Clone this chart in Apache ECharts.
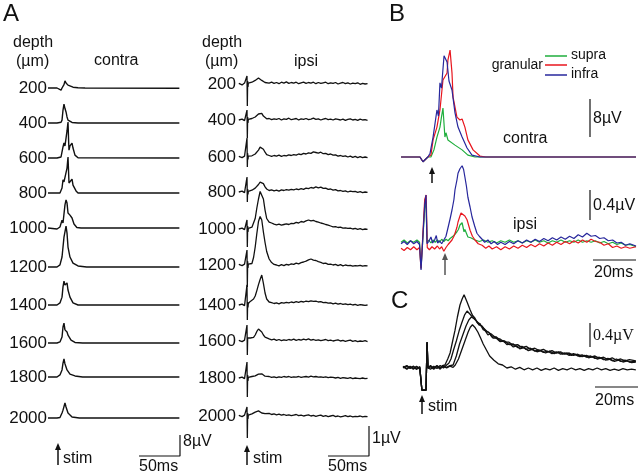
<!DOCTYPE html>
<html><head><meta charset="utf-8">
<script src="https://cdn.jsdelivr.net/npm/echarts@6/dist/echarts.min.js"></script>
<style>html,body{margin:0;padding:0;background:#fff}#c{width:640px;height:475px}</style>
</head><body><div id="c"></div>
<script>
// ---------------- DATA ----------------
const depthLabels = ['200','400','600','800','1000','1200','1400','1600','1800','2000'];

// Panel A, contra (time ms, µV)
const contra200 = [[-12.2,0],[-1.2,0],[1.2,-0.6],[3.7,-0.8],[4.9,0],[7.3,1.3],[8.5,2.7],[9.8,1.9],[12.2,1.1],[14.6,0.6],[18.3,0.3],[24.4,0.1],[33,0],[148,-0.1]];
const contra400 = [[-12.2,0],[-1.2,0],[1.2,-0.4],[3.7,0.3],[4.9,1.1],[6.1,4.9],[7.3,7.2],[8.5,5.5],[9.8,4.2],[11,2.3],[12.2,1.1],[14.6,0.5],[17.1,0.2],[24.4,0],[148,0]];
const contra600 = [[-12.2,0],[-1.2,0],[1.2,-0.3],[3.7,0.4],[4.9,2.3],[6.1,4.2],[7.3,5.7],[8.5,4.6],[9.8,7.6],[11,10.3],[12.2,13.7],[13,6],[13.4,3],[14.6,4.6],[17.1,5.7],[18.3,3.8],[20.7,1.1],[24.4,0.1],[148,0]];
const contra800 = [[-12.2,0],[-1.2,0],[2.4,0],[4.9,1.9],[6.1,5],[7.3,4.2],[8.5,3.8],[11,9.5],[12.2,13.7],[13.4,3.8],[14.6,4.2],[17.1,5.3],[18.3,3],[22,0.8],[24.4,0],[148,0]];
const contra1000 = [[-12.2,0],[-1.2,-0.4],[1.2,-0.6],[2.4,0.4],[4.9,3.0],[6.1,1.9],[8.5,8.8],[9.8,10.7],[11,9.5],[12.2,5.7],[14.6,4.9],[17.1,3.8],[19.5,1.5],[23,0.2],[28,0],[148,0]];
const contra1200 = [[-12.2,0],[-1.2,0],[0,-0.4],[2.4,0.8],[4.9,3.8],[6.1,7.6],[7.3,11.4],[9.8,15.6],[11,12.9],[12.2,7.6],[14.6,3.8],[18.3,1.5],[24.4,0.4],[35,0],[148,0]];
const contra1400 = [[-12.2,0],[-1.2,0],[0,-0.4],[2.4,0.8],[4.9,3],[6.1,6.9],[7.3,9.1],[8.5,7.6],[9.8,8.0],[11,8.4],[12.2,5.7],[14.6,3],[18.3,0.8],[24.4,0],[148,0]];
const contra1600 = [[-12.2,0],[-1.2,0],[0,-0.3],[2.4,0.4],[4.9,2.3],[6.1,6.1],[7.3,7.6],[8.5,5],[11,4.2],[12.2,3],[15.9,1.1],[20.7,0.2],[30,0],[148,0]];
const contra1800 = [[-12.2,0],[-1.2,0],[0,0],[2.4,0.8],[4.9,2.7],[6.1,5.3],[7.3,6.9],[8.5,5],[9.8,3.8],[11,2.7],[14.6,1.1],[20.7,0.4],[30,0],[148,0]];
const contra2000 = [[-12.2,0],[-1.2,0],[0,-0.4],[2.4,0.2],[4.9,1.9],[6.1,3],[8.5,5.7],[9.8,4.2],[12.2,1.9],[17.1,0.4],[26,0],[148,0]];

// Panel A, ipsi: shared sample times (ms) and values (µV)
const ipsiTimes = [-10,-6,-3,-1,0,0.4,0.8,1.2,1.6,2.5,4,6,8,10,12,14,16,18,20,22,24,27,30,33,36,39,42,45,48,51,54,57,60,63,66,69,72,75,78,81,84,87,90,93,96,99,102,105,108,111,114,117,120,123,126,129,132,135,138,141,144,147];
const ipsi200 = [0.02,-0.03,0.03,0, 0.27,-0.73,0.1,-0.1,0.03,0.0, 0.04,0.06,0.08,0.12,0.17,0.2,0.18,0.12,0.07,0.05,0.06, 0.03,0.06,0.02,0.05,0.01,0.06,0.03,0.07,0.02,0.05,0.03,0.06,0.01,0.04,0.06,0.02,0.05,0.03,0.06,0.01,0.05,0.02,0.04,0.06,0.01,0.04,0.02,0.05,0.0,0.03,0.05,0.01,0.04,0.0,0.03,0.01,0.04,-0.01,0.02,0.0,0.01];
const ipsi400 = [0.0,0.03,-0.02,0.02, 0.33,-0.6,0.1,-0.1,0.02,0.03, 0.0,0.05,0.08,0.1,0.15,0.2,0.26,0.22,0.13,0.07,0.04, 0.05,0.01,0.04,0.02,0.05,0.0,0.04,0.02,0.06,0.01,0.03,0.05,0.0,0.04,0.02,0.05,0.01,0.03,0.06,0.02,0.04,0.0,0.03,0.05,0.01,0.03,0.0,0.04,0.02,0.0,0.03,-0.01,0.02,0.04,0.0,0.02,-0.01,0.03,0.0,0.01,-0.01];
const ipsi600 = [0.02,-0.02,0.03,0.0, 0.63,-0.33,0.12,-0.08,0.03,0.02, 0.0,0.04,0.07,0.1,0.14,0.23,0.33,0.36,0.26,0.16,0.08, 0.05,0.02,0.05,0.03,0.06,0.02,0.05,0.04,0.07,0.05,0.08,0.06,0.1,0.08,0.12,0.1,0.14,0.12,0.17,0.15,0.13,0.16,0.11,0.12,0.08,0.1,0.06,0.07,0.03,0.05,0.02,0.04,0.0,0.03,-0.01,0.02,-0.02,0.01,-0.02,0.0,-0.02];
const ipsi800 = [0.0,0.03,-0.02,0.02, 0.5,-0.33,0.1,-0.08,0.02,0.0, 0.03,0.06,0.1,0.13,0.17,0.25,0.33,0.36,0.28,0.17,0.1, 0.05,0.07,0.04,0.06,0.03,0.07,0.05,0.08,0.06,0.09,0.07,0.1,0.08,0.11,0.09,0.13,0.11,0.15,0.13,0.17,0.14,0.16,0.12,0.13,0.09,0.1,0.06,0.08,0.04,0.05,0.02,0.04,0.0,0.03,0.01,0.02,-0.01,0.01,-0.02,0.0,-0.01];
const ipsi1000 = [0.0,0.03,-0.02,0.02, 0.3,-0.6,0.1,-0.1,0.02,0.0, 0.03,0.06,0.12,0.35,0.7,1.0,1.25,1.3,1.0,0.63,0.35, 0.23,0.2,0.16,0.14,0.16,0.13,0.15,0.17,0.15,0.19,0.18,0.22,0.2,0.25,0.23,0.27,0.3,0.27,0.29,0.25,0.23,0.2,0.18,0.15,0.13,0.1,0.07,0.08,0.05,0.06,0.03,0.04,0.02,0.03,0.0,0.02,-0.01,0.01,-0.02,0.0,-0.01];
const ipsi1200 = [0.02,-0.02,0.03,0.0, 0.5,-0.73,0.12,-0.1,0.03,0.0, 0.02,0.05,0.25,0.6,1.05,1.45,1.62,1.5,1.1,0.75,0.45, 0.2,0.08,0.02,0.0,-0.03,0.01,-0.02,0.02,0.0,0.04,0.02,0.06,0.04,0.08,0.1,0.13,0.17,0.2,0.16,0.15,0.11,0.09,0.05,0.06,0.02,0.03,0.0,0.02,-0.02,0.01,-0.03,0.0,-0.02,-0.01,-0.04,-0.02,-0.03,-0.01,-0.04,-0.02,-0.03];
const ipsi1400 = [0.0,0.03,-0.02,0.02, 0.67,-0.5,0.1,-0.08,0.05,0.08, 0.12,0.17,0.2,0.3,0.48,0.68,0.85,1.0,0.72,0.4,0.2, 0.1,0.08,0.05,0.07,0.04,0.08,0.06,0.09,0.07,0.1,0.08,0.11,0.09,0.12,0.1,0.13,0.11,0.14,0.12,0.13,0.1,0.11,0.08,0.09,0.06,0.07,0.04,0.06,0.03,0.05,0.02,0.04,0.01,0.03,0.0,0.02,-0.01,0.01,0.0,-0.01,0.0];
const ipsi1600 = [0.02,-0.02,0.03,0.0, 0.53,-0.47,0.1,0.05,0.12,0.13, 0.1,0.08,0.12,0.2,0.32,0.4,0.37,0.3,0.2,0.13,0.09, 0.07,0.04,0.06,0.02,0.05,0.01,0.04,0.02,0.05,0.03,0.06,0.02,0.05,0.03,0.06,0.04,0.07,0.03,0.05,0.02,0.04,0.01,0.03,0.05,0.01,0.03,0.0,0.02,0.04,0.0,0.02,-0.01,0.01,0.03,-0.01,0.01,-0.02,0.0,-0.01,0.01,-0.02];
const ipsi1800 = [0.0,0.03,-0.02,0.02, 0.53,-0.63,0.1,-0.1,0.02,0.0, 0.03,0.05,0.04,0.07,0.1,0.13,0.15,0.14,0.1,0.06,0.04, 0.05,0.02,0.04,0.01,0.04,0.02,0.05,0.03,0.05,0.02,0.04,0.03,0.05,0.02,0.04,0.05,0.03,0.06,0.04,0.05,0.03,0.04,0.02,0.04,0.01,0.03,0.02,0.0,0.02,-0.01,0.01,0.0,-0.01,0.01,-0.02,0.0,-0.01,-0.02,0.0,-0.02,-0.01];
const ipsi2000 = [0.02,-0.02,0.03,0.0, 0.3,-0.73,0.1,-0.1,0.03,0.02, 0.05,0.07,0.1,0.13,0.16,0.17,0.13,0.1,0.12,0.08,0.07, 0.09,0.05,0.07,0.04,0.06,0.03,0.05,0.02,0.04,0.01,0.03,0.05,0.01,0.03,0.0,0.02,0.04,0.0,0.02,-0.01,0.01,0.03,-0.01,0.01,-0.02,0.0,0.02,-0.02,0.0,-0.03,-0.01,0.01,-0.02,0.0,-0.03,-0.01,-0.02,0.0,-0.03,-0.01,-0.02];

// Panel B, contra (ms, µV)
const bContraSupra = [[-14.4,0],[-5.6,0],[-4.2,-1.0],[-1.9,0],[-0.5,0],[0.9,1.5],[2.3,4.2],[3.7,6.3],[4.4,8.4],[5.1,10.3],[6,4.2],[6.5,5.1],[7.4,3.6],[10.7,2.5],[14,1.5],[16.7,0.4],[20,0],[94.9,0]];
const bContraGranular = [[-14.4,0],[-5.6,0],[-4.2,-1.0],[-1.9,0],[-0.5,0.4],[0.5,3.6],[2.3,6.3],[3.7,9.9],[5.1,16.2],[7.0,17.7],[7.4,20.4],[8.4,22.5],[9.3,17.7],[9.8,12.6],[11.6,8.4],[13,7.8],[14,8.0],[15.3,6.3],[16.7,3.6],[19.1,1.5],[22.3,0.2],[25,0],[94.9,0]];
const bContraInfra = [[-14.4,0],[-5.6,0],[-4.2,-1.0],[-1.9,0],[-0.9,0.8],[0.5,4.2],[1.4,4.4],[2.3,9.9],[3.0,8.6],[3.7,15.6],[4.4,14.5],[5.6,21.3],[7.0,20],[7.9,16],[9.3,14.1],[10.7,9.3],[12.1,6.3],[14,4.2],[16.3,1.9],[18.6,0.4],[22.3,0],[94.9,0]];

// Panel B, ipsi (ms, µV)
const bIpsiSupra = [[-14.4,0.05],[-13,0.08],[-11.5,0.04],[-10,0.07],[-8.5,0.05],[-7,0.08],[-5.8,0.05],[-5.1,-0.3],[-4.2,-0.3],[-3.4,0.5],[-2.8,0.6],[-2.3,0.05],[-1.5,0.08],[-0.5,0.04],[0.5,0.08],[1.5,0.05],[2.5,0.08],[3.5,0.05],[4.5,0.09],[5.5,0.06],[6.5,0.09],[7.5,0.07],[8.4,0.1],[9.3,0.12],[10.2,0.14],[11.6,0.19],[12.3,0.22],[13,0.28],[14,0.31],[14.9,0.19],[15.3,0.22],[16,0.17],[16.7,0.12],[18,0.11],[20,0.08],[22,0.06],[24,0.08],[26,0.05],[28,0.07],[30,0.04],[32,0.07],[34,0.05],[36,0.08],[38,0.05],[40,0.07],[42,0.04],[44,0.07],[46,0.05],[48,0.08],[50,0.05],[52,0.07],[54,0.04],[56,0.07],[58,0.05],[60,0.08],[62,0.05],[64,0.07],[66,0.05],[68,0.08],[70,0.05],[72,0.07],[74,0.05],[76,0.07],[78,0.04],[80,0.06],[82,0.03],[84,0.05],[86,0.02],[88,0.04],[90,0.01],[92,0.02],[94.9,-0.01]];
const bIpsiGranular = [[-14.4,-0.03],[-13,-0.06],[-11.5,-0.02],[-10,-0.05],[-8.5,-0.01],[-7,-0.05],[-5.8,-0.02],[-5.1,-0.3],[-4.2,-0.28],[-3.4,0.62],[-2.7,0.68],[-2.2,-0.02],[-1.2,-0.05],[0,-0.01],[1.2,-0.04],[2.5,0.0],[3.5,-0.04],[4.5,-0.01],[5.5,-0.07],[6.5,-0.02],[7.5,0.02],[8.4,0.05],[9.3,0.08],[10.2,0.13],[10.7,0.17],[11.6,0.25],[12.1,0.32],[13,0.4],[13.5,0.44],[14.4,0.45],[15.3,0.4],[16.3,0.35],[17,0.28],[17.7,0.21],[18.8,0.13],[20,0.08],[21.5,0.03],[23.3,0.01],[25,-0.03],[26.5,0.0],[28,-0.04],[30,-0.01],[32,-0.05],[34,-0.01],[36,-0.04],[38,0.0],[40,-0.03],[42,0.01],[44,-0.02],[46,0.02],[48,-0.01],[50,0.03],[52,0.0],[54,0.04],[56,0.01],[58,0.05],[60,0.02],[62,0.06],[64,0.03],[66,0.07],[68,0.04],[70,0.08],[72,0.05],[74,0.09],[76,0.06],[78,0.05],[80,0.01],[82,0.03],[84,-0.02],[86,0.0],[88,-0.03],[90,-0.01],[92,-0.03],[94.9,-0.01]];
const bIpsiInfra = [[-14.4,0.03],[-13,0.06],[-11.5,0.02],[-10,0.07],[-8.5,0.03],[-7,0.06],[-5.8,0.02],[-5.1,-0.32],[-4.2,-0.32],[-3.4,0.55],[-2.8,0.68],[-2.3,0.03],[-1.5,0.06],[-0.5,0.12],[0.3,0.04],[1.2,0.08],[2,0.14],[2.6,0.04],[3.5,0.07],[4.5,0.03],[5.5,0.08],[6.5,0.13],[7.5,0.25],[8.4,0.36],[9.3,0.48],[10.2,0.62],[10.7,0.75],[11.6,0.88],[12.1,0.97],[13,1.03],[14,1.07],[14.7,1.02],[15.3,0.92],[16,0.8],[16.7,0.65],[17.7,0.52],[18.6,0.39],[19.8,0.27],[20.9,0.17],[22,0.13],[23.3,0.09],[24.5,0.05],[26,0.08],[27.5,0.03],[29,0.06],[30.5,0.02],[32,0.05],[34,0.02],[36,0.06],[38,0.03],[40,0.07],[42,0.04],[44,0.08],[46,0.05],[48,0.09],[50,0.06],[52,0.1],[54,0.07],[56,0.11],[58,0.08],[60,0.12],[62,0.09],[64,0.13],[66,0.1],[68,0.15],[70,0.12],[72,0.17],[74,0.13],[76,0.14],[78,0.1],[80,0.11],[82,0.07],[84,0.08],[86,0.04],[88,0.05],[90,0.01],[92,0.03],[94.9,0.0]];

// Panel C (ms, µV), four ipsi traces
const cTrace1 = [[-9.3,0.02],[-7.5,-0.02],[-6,0.03],[-4.5,-0.01],[-3,0.03],[-1.5,-0.02],[-0.5,-0.37],[1.4,-0.37],[1.9,0.43],[2.3,0],[3.5,0.04],[5,-0.01],[6.5,0.03],[8,-0.02],[9,0.04],[10.2,0.05],[11.5,0.15],[12.6,0.25],[13.8,0.45],[14.9,0.63],[16,0.85],[17.2,1.05],[18.2,1.15],[19.1,1.22],[20.5,1.1],[21.9,0.97],[23,0.88],[24,0.84],[25.3,0.75],[26.5,0.74],[28,0.64],[29,0.62],[30.2,0.55],[31.2,0.57],[32.5,0.5],[34,0.5],[35.8,0.44],[37.5,0.45],[39,0.39],[40.5,0.4],[42,0.35],[43.5,0.37],[45,0.32],[47,0.34],[49,0.29],[51,0.31],[53,0.27],[55,0.29],[57,0.25],[59,0.28],[61,0.24],[63,0.27],[65,0.23],[67,0.25],[69,0.21],[71,0.23],[73,0.19],[75,0.21],[77,0.17],[79,0.19],[81,0.15],[83,0.17],[85,0.13],[87,0.15],[89,0.11],[91,0.13],[93,0.1],[95,0.12],[97,0.09],[99,0.1]];
const cTrace2 = [[-9.3,0.0],[-7.5,0.03],[-6,-0.01],[-4.5,0.03],[-3,-0.02],[-1.5,0.02],[-0.5,-0.37],[1.4,-0.37],[1.9,0.43],[2.3,0],[3.5,-0.02],[5,0.03],[6.5,-0.01],[8,0.04],[9.5,0.0],[11,0.05],[12,0.08],[13,0.15],[14.2,0.3],[15.5,0.45],[16.8,0.62],[18,0.75],[19.3,0.88],[20.5,0.95],[21.8,0.9],[23,0.85],[24.5,0.8],[26,0.72],[27.5,0.7],[29,0.62],[30.5,0.6],[32,0.52],[34,0.52],[36,0.45],[38,0.45],[40,0.39],[42,0.4],[44,0.34],[46,0.36],[48,0.31],[50,0.33],[52,0.28],[54,0.3],[56,0.26],[58,0.28],[60,0.24],[62,0.27],[64,0.23],[66,0.25],[68,0.21],[70,0.24],[72,0.2],[74,0.22],[76,0.18],[78,0.2],[80,0.16],[82,0.18],[84,0.14],[86,0.16],[88,0.12],[90,0.15],[92,0.11],[94,0.13],[96,0.1],[99,0.11]];
const cTrace3 = [[-9.3,0.03],[-7.5,-0.01],[-6,0.02],[-4.5,-0.02],[-3,0.02],[-1.5,0.0],[-0.5,-0.37],[1.4,-0.37],[1.9,0.43],[2.3,0],[3.5,0.03],[5,0.0],[6.5,0.04],[8,0.0],[9.5,0.03],[11,0.01],[12.5,0.04],[14,0.05],[15.5,0.2],[17,0.4],[18.5,0.55],[20,0.7],[21.3,0.8],[22.5,0.85],[23.8,0.82],[25,0.78],[26.5,0.72],[28,0.67],[30,0.6],[32,0.56],[34,0.5],[36,0.48],[38,0.43],[40,0.43],[42,0.38],[44,0.39],[46,0.34],[48,0.36],[50,0.31],[52,0.33],[54,0.29],[56,0.31],[58,0.27],[60,0.29],[62,0.25],[64,0.27],[66,0.23],[68,0.25],[70,0.21],[72,0.23],[74,0.19],[76,0.21],[78,0.18],[80,0.2],[82,0.16],[84,0.18],[86,0.14],[88,0.17],[90,0.13],[92,0.15],[94,0.12],[96,0.14],[99,0.12]];
const cTrace4 = [[-9.3,0.01],[-7.5,0.04],[-6,0.0],[-4.5,0.03],[-3,-0.02],[-1.5,0.02],[-0.5,-0.37],[1.4,-0.37],[1.9,0.43],[2.3,0],[3.5,0.02],[5,-0.02],[6.5,0.03],[8,-0.01],[9.5,0.03],[11,0.0],[12.5,0.03],[14,0.01],[15,0.05],[16.5,0.15],[18,0.3],[19.5,0.45],[21,0.6],[22,0.68],[23,0.72],[24.3,0.67],[25.5,0.6],[26.8,0.5],[28,0.4],[29.5,0.3],[31,0.2],[33,0.13],[35,0.07],[37,0.05],[39,0.0],[41,0.02],[43,-0.02],[45,0.01],[47,-0.03],[49,0.0],[51,-0.03],[53,0.0],[55,-0.04],[57,-0.01],[59,-0.03],[61,0.0],[63,-0.04],[65,-0.01],[67,-0.03],[69,0.0],[71,-0.03],[73,-0.01],[75,-0.04],[77,-0.01],[79,-0.03],[81,0.0],[83,-0.03],[85,-0.01],[87,-0.04],[89,-0.02],[91,-0.04],[93,-0.01],[95,-0.03],[97,-0.02],[99,-0.03]];

// ---------------- LAYOUT / STYLE ----------------
const contraTraces = [contra200,contra400,contra600,contra800,contra1000,contra1200,contra1400,contra1600,contra1800,contra2000];
const ipsiTraces = [ipsi200,ipsi400,ipsi600,ipsi800,ipsi1000,ipsi1200,ipsi1400,ipsi1600,ipsi1800,ipsi2000];
const contraBase = [88,123,158,193,228,267,305,343,377,418];
const ipsiBase = [84,120,157,192,229,265,305,341,378,416];
const FONT = "'Liberation Sans', Arial, sans-serif";
const SERIF = "'Liberation Serif', 'Times New Roman', serif";
const GREEN = '#1fae3c', RED = '#e8161e', BLUE = '#27279c';

const msPerPxA = 50/41;      // panel A: 50 ms = 41 px
const pxPerUvContra = 21/8;  // 8 µV = 21 px
const pxPerUvIpsi = 30;      // 1 µV = 30 px
const pxPerMsB = 43/20;      // 20 ms = 43 px
const pxPerUvBc = 38/8;
const pxPerUvBi = 75;
const pxPerUvC = 60;

const grids=[], xAxes=[], yAxes=[], series=[];
function addGrid(left,width,top,height,xmin,xmax,ymin,ymax){
  const g = grids.length;
  grids.push({left,top,width,height,containLabel:false,show:false});
  xAxes.push({type:'value',gridIndex:g,min:xmin,max:xmax,show:false});
  yAxes.push({type:'value',gridIndex:g,min:ymin,max:ymax,show:false});
  return g;
}
function addLine(g,data,color,width){
  series.push({type:'line',xAxisIndex:g,yAxisIndex:g,data,symbol:'none',showSymbol:false,clip:false,
    animation:false,silent:true,lineStyle:{color,width:width||1.2},z:2});
}

// Panel A
const aXmin = -10*msPerPxA, aXmax = aXmin + 132*msPerPxA;
const contraGrids=[], ipsiGrids=[];
contraTraces.forEach((d,i)=>{
  const g = addGrid(48,132,contraBase[i]-60,90,aXmin,aXmax,-30/pxPerUvContra,60/pxPerUvContra);
  contraGrids.push(g); addLine(g,d,'#111',1.4);
});
ipsiTraces.forEach((vals,i)=>{
  const g = addGrid(237,132,ipsiBase[i]-60,90,aXmin,aXmax,-30/pxPerUvIpsi,60/pxPerUvIpsi);
  ipsiGrids.push(g);
  const n = Math.min(vals.length, ipsiTimes.length);
  const d = []; for(let k=0;k<n;k++) d.push([ipsiTimes[k], vals[k]]);
  addLine(g,d,'#111',1.3);
});
// scale bars panel A (drawn in last trace grid's units)
{
  const gC = contraGrids[9], vC = -(456-contraBase[9])/pxPerUvContra;
  addLine(gC,[[aXmax-50,vC],[aXmax,vC],[aXmax,vC+8]],'#111',1.2);
  const gI = ipsiGrids[9], vI = -(456-ipsiBase[9])/pxPerUvIpsi;
  addLine(gI,[[aXmax-50,vI],[aXmax,vI],[aXmax,vI+1]],'#111',1.2);
}

// Panel B
const bXmin = -31/pxPerMsB, bXmax = 204/pxPerMsB;
const gBc = addGrid(401,235,157-115,135,bXmin,bXmax,-20/pxPerUvBc,115/pxPerUvBc);
addLine(gBc,bContraSupra,GREEN,1.2);
addLine(gBc,bContraGranular,RED,1.2);
addLine(gBc,bContraInfra,BLUE,1.2);
const gBi = addGrid(401,235,246-90,120,bXmin,bXmax,-30/pxPerUvBi,90/pxPerUvBi);
addLine(gBi,bIpsiSupra,GREEN,1.2);
addLine(gBi,bIpsiGranular,RED,1.2);
addLine(gBi,bIpsiInfra,BLUE,1.2);
{
  const tb = (590-432)/pxPerMsB;
  const v0 = (157-137)/pxPerUvBc;
  addLine(gBc,[[tb,v0],[tb,v0+8]],'#111',1.2);
  const v1 = (246-220)/pxPerUvBi;
  addLine(gBi,[[tb,v1],[tb,v1+0.4]],'#111',1.2);
  const vh = -(260-246)/pxPerUvBi;
  addLine(gBi,[[bXmax-20,vh],[bXmax,vh]],'#111',1.2);
}

// Panel C
const cXmin = -20/pxPerMsB, cXmax = 213/pxPerMsB;
const gC = addGrid(403,233,368-80,110,cXmin,cXmax,-30/pxPerUvC,80/pxPerUvC);
[cTrace1,cTrace2,cTrace3,cTrace4].forEach(d=>addLine(gC,d,'#111',1.3));
{
  const tb = (590-423)/pxPerMsB;
  const v0 = (368-347)/pxPerUvC;
  addLine(gC,[[tb,v0],[tb,v0+0.4]],'#111',1.2);
  const vh = -(387-368)/pxPerUvC;
  const t1 = (638-423)/pxPerMsB;
  addLine(gC,[[t1-20,vh],[t1,vh]],'#111',1.2);
}

// ---------------- TEXT / ANNOTATIONS ----------------
const graphics = [];
function txt(s,x,y,size,align,family,vAlign){
  graphics.push({type:'text',x,y,silent:true,z:10,style:{text:s,fill:'#111',
    font:(size||16)+'px '+(family||FONT),align:align||'left',textAlign:align||'left',
    verticalAlign:vAlign||'middle',textVerticalAlign:vAlign||'middle'}});
}
function arrow(x,yTop,yBot,color){
  color = color||'#111';
  graphics.push({type:'line',silent:true,z:10,shape:{x1:x,y1:yBot,x2:x,y2:yTop+5},style:{stroke:color,lineWidth:1.5}});
  graphics.push({type:'polygon',silent:true,z:10,shape:{points:[[x-3,yTop+7],[x+3,yTop+7],[x,yTop]]},style:{fill:color}});
}
function hline(x1,x2,y,color){
  graphics.push({type:'line',silent:true,z:10,shape:{x1,y1:y,x2,y2:y},style:{stroke:color,lineWidth:1.5}});
}

txt('A',3,14,24);
txt('B',389,14,24);
txt('C',391,301,24);

txt('depth',13,43,16); txt('(µm)',16,62,16); txt('contra',94,61,16);
txt('depth',202,43,16); txt('(µm)',205,62,16); txt('ipsi',294,62,16);
depthLabels.forEach((s,i)=>{ txt(s,47,contraBase[i],17,'right'); txt(s,236,ipsiBase[i],17,'right'); });

arrow(58,443,465); txt('stim',63,459,16);
arrow(247,445,465); txt('stim',253,459,16);
txt('50ms',139,467,16); txt('8µV',183,442,16);
txt('50ms',328,467,16); txt('1µV',372,439,16);

// legend B
hline(545,567,56,GREEN); hline(545,567,65,RED); hline(545,567,75,BLUE);
txt('granular',543,65,14,'right'); txt('supra',571,55,14); txt('infra',571,74,14);
txt('contra',503,139,16); txt('ipsi',513,225,16);
txt('8µV',593,119,16); txt('0.4µV',593,206,16); txt('20ms',594,273,16);
arrow(432,167,183,'#111'); arrow(445,253,275,'#555');

// C
txt('0.4µV',593,336,16,'left',SERIF); txt('20ms',595,401,16);
arrow(422,395,414); txt('stim',428,407,16);

const chart = echarts.init(document.getElementById('c'),null,{renderer:'canvas'});
chart.setOption({animation:false,backgroundColor:'#fff',grid:grids,xAxis:xAxes,yAxis:yAxes,series,graphic:graphics});
</script></body></html>
